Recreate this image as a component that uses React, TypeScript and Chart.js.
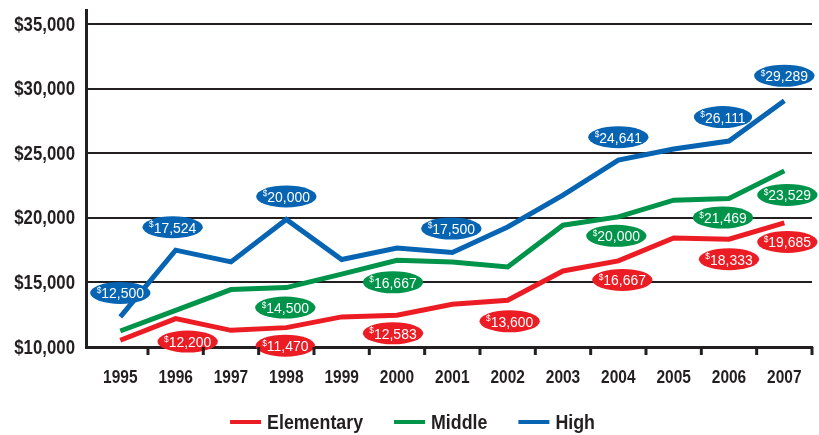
import { useEffect, useRef } from "react";
import { Chart, registerables } from "chart.js";
Chart.register(...registerables);

const years = [1995, 1996, 1997, 1998, 1999, 2000, 2001, 2002, 2003, 2004, 2005, 2006, 2007];
const elementary = [10520, 12200, 11290, 11500, 12330, 12460, 13310, 13620, 15890, 16670, 18450, 18350, 19610];
const middle = [11240, 12840, 14450, 14600, 15640, 16720, 16590, 16200, 19430, 20080, 21370, 21500, 23640];
const high = [12330, 17500, 16590, 19880, 16780, 17670, 17320, 19300, 21760, 24470, 25330, 25950, 29070];

const yTicks = [10000, 15000, 20000, 25000, 30000, 35000];

const elementaryLabelYears = [1996, 1998, 2000, 2002, 2004, 2006, 2007];
const elementaryLabels = ["12,200", "11,470", "12,583", "13,600", "16,667", "18,333", "19,685"];
const middleLabelYears = [1998, 2000, 2004, 2006, 2007];
const middleLabels = ["14,500", "16,667", "20,000", "21,469", "23,529"];
const highLabelYears = [1995, 1996, 1998, 2001, 2004, 2006, 2007];
const highLabels = ["12,500", "17,524", "20,000", "17,500", "24,641", "26,111", "29,289"];

const RED = "#ec1c24";
const GREEN = "#00944a";
const BLUE = "#0664b2";
const INK = "#231f20";
const FONT = "'Liberation Sans', Arial, sans-serif";

const fmtY = (v: number) => "$" + Number(v).toLocaleString("en-US");

// bubble placement (pixel offsets from the point), kept apart from data
const bubbleSpecs = [
  { ds: 0, years: elementaryLabelYears, texts: elementaryLabels, color: RED, dx: [12, -1, -4, 2, 4, 0, 3], dy: [23, 18, 18, 21, 19, 20, 19] },
  { ds: 1, years: middleLabelYears, texts: middleLabels, color: GREEN, dx: [-1, -4, -2, -6, 3], dy: [20, 22, 19, 19, 24] },
  { ds: 2, years: highLabelYears, texts: highLabels, color: BLUE, dx: [0, -3, 0, -1, 0, -6, 0], dy: [-24, -23, -23, -24, -23, -24, -25] },
];

// draw horizontally condensed text (mimics a narrow typeface)
function narrowText(ctx: CanvasRenderingContext2D, text: string, x: number, y: number, font: string, sx: number, align: CanvasTextAlign, baseline: CanvasTextBaseline) {
  ctx.save();
  ctx.translate(x, y);
  ctx.scale(sx, 1);
  ctx.font = font;
  ctx.textAlign = align;
  ctx.textBaseline = baseline;
  ctx.fillText(text, 0, 0);
  ctx.restore();
}
function narrowWidth(ctx: CanvasRenderingContext2D, text: string, font: string, sx: number) {
  ctx.save();
  ctx.font = font;
  const w = ctx.measureText(text).width * sx;
  ctx.restore();
  return w;
}

const textPlugin = {
  id: "customText",
  afterDatasetsDraw(chart: any) {
    const ctx = chart.ctx as CanvasRenderingContext2D;
    const xs = chart.scales.x;
    const ys = chart.scales.y;
    const bFont = `15px ${FONT}`;
    const sFont = `9px ${FONT}`;
    const bsx = 0.93;
    bubbleSpecs.forEach((s) => {
      const data = chart.data.datasets[s.ds].data as number[];
      s.years.forEach((yr, k) => {
        const i = years.indexOf(yr);
        const cx = xs.getPixelForValue(yr) + s.dx[k];
        const cy = ys.getPixelForValue(data[i]) + s.dy[k];
        const txt = s.texts[k];
        const tw = narrowWidth(ctx, txt, bFont, bsx);
        const sw = narrowWidth(ctx, "$", sFont, bsx);
        const total = tw + sw;
        const w = total + 13;
        ctx.save();
        ctx.beginPath();
        ctx.ellipse(cx, cy, w / 2, 11, 0, 0, Math.PI * 2);
        ctx.fillStyle = s.color;
        ctx.fill();
        ctx.fillStyle = "#ffffff";
        const x0 = cx - total / 2;
        narrowText(ctx, "$", x0, cy, sFont, bsx, "left", "alphabetic");
        narrowText(ctx, txt, x0 + sw, cy + 5.5, bFont, bsx, "left", "alphabetic");
        ctx.restore();
      });
    });
  },
  afterDraw(chart: any) {
    const ctx = chart.ctx as CanvasRenderingContext2D;
    const xs = chart.scales.x;
    const ys = chart.scales.y;
    ctx.save();
    // x-axis tick marks between categories
    ctx.strokeStyle = INK;
    ctx.lineWidth = 3;
    years.forEach((yr) => {
      const x = xs.getPixelForValue(yr + 0.5);
      ctx.beginPath();
      ctx.moveTo(x, ys.bottom);
      ctx.lineTo(x, ys.bottom + 8);
      ctx.stroke();
    });
    ctx.fillStyle = INK;
    // y tick labels
    ys.ticks.forEach((t: any) => {
      narrowText(ctx, fmtY(t.value), ys.right - 11, ys.getPixelForValue(t.value) + 1, `bold 20px ${FONT}`, 0.84, "right", "middle");
    });
    // x tick labels
    xs.ticks.forEach((t: any) => {
      narrowText(ctx, String(t.value), xs.getPixelForValue(t.value), ys.bottom + 31, `bold 18px ${FONT}`, 0.86, "center", "middle");
    });
    // legend
    const lFont = `bold 20px ${FONT}`;
    const lsx = 0.89;
    const sw = 31, gapT = 6, gapItem = 31;
    const items = chart.data.datasets.map((d: any) => ({ label: d.label, color: d.borderColor, w: narrowWidth(ctx, d.label, lFont, lsx) }));
    const total = items.reduce((a: number, it: any) => a + sw + gapT + it.w, 0) + gapItem * (items.length - 1);
    let x = (chart.width - total) / 2 + 3;
    const y = 422;
    items.forEach((it: any) => {
      ctx.fillStyle = it.color;
      ctx.fillRect(x, y - 2, sw, 4);
      ctx.fillStyle = INK;
      narrowText(ctx, it.label, x + sw + gapT, y + 1, lFont, lsx, "left", "middle");
      x += sw + gapT + it.w + gapItem;
    });
    ctx.restore();
  },
};

export default function App() {
  const ref = useRef<HTMLCanvasElement | null>(null);
  useEffect(() => {
    if (!ref.current) return;
    const mk = (label: string, data: number[], color: string) => ({
      label,
      data,
      borderColor: color,
      backgroundColor: color,
      borderWidth: 5,
      pointRadius: 0,
      tension: 0,
      borderJoinStyle: "miter" as const,
    });
    const chart = new Chart(ref.current, {
      type: "line",
      data: {
        labels: years,
        datasets: [mk("Elementary", elementary, RED), mk("Middle", middle, GREEN), mk("High", high, BLUE)],
      },
      options: {
        animation: false,
        responsive: true,
        maintainAspectRatio: false,
        layout: { padding: { top: 10, right: 7, left: 0, bottom: 42 } },
        scales: {
          x: {
            type: "linear",
            min: 1994.38,
            max: 2007.5,
            afterBuildTicks: (s: any) => {
              s.ticks = years.map((v) => ({ value: v }));
            },
            afterFit: (s: any) => {
              s.height = 46;
              s.paddingLeft = 0;
              s.paddingRight = 0;
            },
            grid: { display: false, drawTicks: false },
            border: { display: true, color: INK, width: 3 },
            ticks: { display: false, autoSkip: false, maxRotation: 0 },
          },
          y: {
            min: 10000,
            max: 36100,
            afterBuildTicks: (s: any) => {
              s.ticks = yTicks.map((v) => ({ value: v }));
            },
            afterFit: (s: any) => {
              s.width = 86;
              s.paddingTop = 0;
              s.paddingBottom = 0;
            },
            grid: { color: INK, lineWidth: 2, drawTicks: false },
            border: { display: true, color: INK, width: 3 },
            ticks: { display: false },
          },
        },
        plugins: {
          legend: { display: false },
          tooltip: { enabled: false },
        },
      },
      plugins: [textPlugin],
    });
    return () => chart.destroy();
  }, []);
  return (
    <div style={{ position: "fixed", left: 0, top: 0, width: 819, height: 435, background: "#fff" }}>
      <canvas ref={ref} />
    </div>
  );
}
